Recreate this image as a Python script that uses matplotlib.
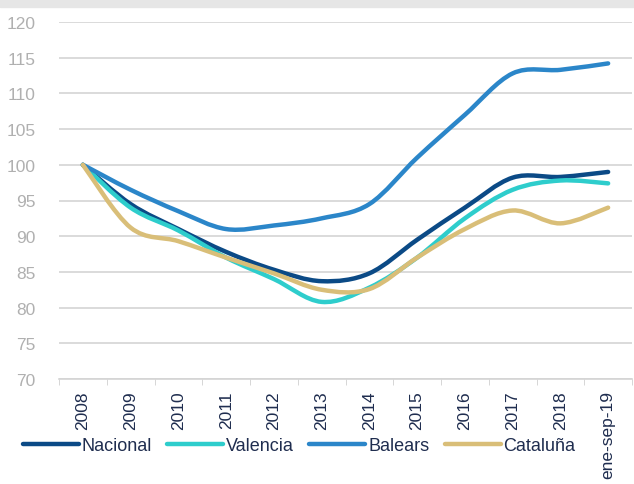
import matplotlib
matplotlib.use("Agg")
import matplotlib.pyplot as plt
from matplotlib.path import Path
from matplotlib.patches import PathPatch, Rectangle
from matplotlib.lines import Line2D
import numpy as np

plt.rcParams['font.family'] = ['Liberation Sans', 'DejaVu Sans']

categories = ["2008", "2009", "2010", "2011", "2012", "2013", "2014",
              "2015", "2016", "2017", "2018", "ene-sep-19"]
nacional = [100, 94.5, 91.0, 87.8, 85.3, 83.7, 84.8, 89.5, 94.0, 98.2, 98.3, 99.0]
valencia = [100, 94.0, 90.8, 87.0, 84.0, 80.8, 82.8, 87.0, 92.5, 96.5, 97.8, 97.4]
balears = [100, 96.5, 93.5, 91.0, 91.5, 92.5, 94.5, 101.0, 107.0, 112.8, 113.3, 114.2]
cataluna = [100, 91.2, 89.3, 87.0, 84.8, 82.5, 82.6, 87.0, 91.0, 93.6, 91.8, 94.0]

series = [("Nacional", nacional, "#0b4a86"),
          ("Valencia", valencia, "#2ecdcc"),
          ("Balears", balears, "#2b86c9"),
          ("Cataluña", cataluna, "#d9be78")]

fig = plt.figure(figsize=(6.34, 4.85), dpi=100)
fig.patches.append(Rectangle((0, 1 - 8 / 485), 1, 8 / 485, transform=fig.transFigure,
                             color="#e6e6e6", zorder=0))
ax = fig.add_axes([59 / 634, 1 - 380 / 485, (632 - 59) / 634, (380 - 23) / 485])

x = np.arange(len(categories))


def smooth_path(xs, ys):
    pts = np.column_stack([xs, ys]).astype(float)
    n = len(pts)
    verts = [pts[0]]
    codes = [Path.MOVETO]
    for i in range(n - 1):
        p0 = pts[i - 1] if i > 0 else pts[i]
        p1 = pts[i]
        p2 = pts[i + 1]
        p3 = pts[i + 2] if i + 2 < n else pts[i + 1]
        c1 = p1 + (p2 - p0) / 6.0
        c2 = p2 - (p3 - p1) / 6.0
        verts += [c1, c2, p2]
        codes += [Path.CURVE4] * 3
    return Path(verts, codes)


handles = []
for name, vals, col in series:
    patch = PathPatch(smooth_path(x, vals), facecolor="none", edgecolor=col,
                      lw=3.2, capstyle="round", joinstyle="round", zorder=3)
    ax.add_patch(patch)
    handles.append(Line2D([], [], color=col, lw=3.2, solid_capstyle="round"))

ax.set_xlim(-0.5, len(categories) - 0.5)
ax.set_ylim(70, 120)
ax.set_yticks(np.arange(70, 121, 5))
ax.set_xticks(x)
ax.set_xticklabels(categories, rotation=90, color="#1f2d4f", fontsize=12.5)
ax.set_xticks(np.arange(-0.5, len(categories), 1), minor=True)
ax.tick_params(axis="x", which="major", length=0, pad=8)
ax.tick_params(axis="x", which="minor", length=4, color="#d0d0d0")
ax.tick_params(axis="y", length=0, labelcolor="#b0b0b0", labelsize=12.5, pad=17)
ax.grid(axis="y", color="#d4d4d4", lw=1.2)
ax.set_axisbelow(True)
for s in ["top", "right", "left"]:
    ax.spines[s].set_visible(False)
ax.spines["bottom"].set_color("#d4d4d4")
ax.spines["bottom"].set_linewidth(1.2)

leg = fig.legend(handles, [s[0] for s in series], loc="center left",
                 bbox_to_anchor=(0.025, 1 - 447 / 485), ncol=4, frameon=False,
                 fontsize=13, handlelength=3.1, handletextpad=0.15, columnspacing=0.85,
                 borderaxespad=0)
for t in leg.get_texts():
    t.set_color("#1f2d4f")

fig.savefig("out.png", dpi=100)
